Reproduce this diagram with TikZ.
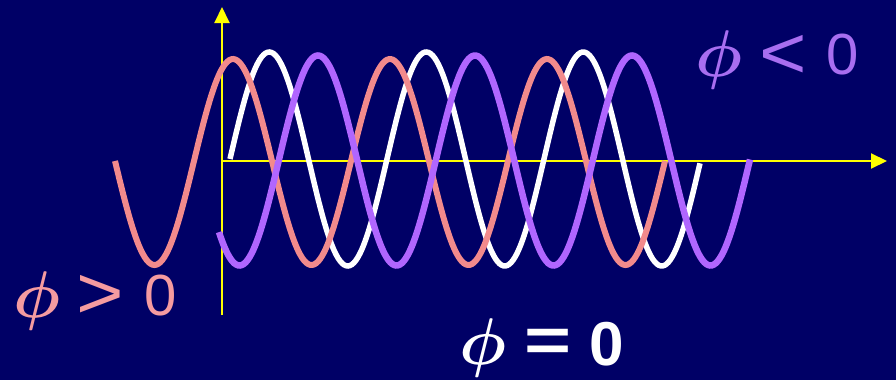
\documentclass[tikz,border=0pt]{standalone}
\usepackage{fix-cm}
\usepackage{fontspec}
\setmainfont{Liberation Sans}
\usetikzlibrary{arrows.meta}
\definecolor{bg}{RGB}{0,0,102}
\definecolor{axisyellow}{RGB}{255,255,0}
\definecolor{wavepink}{RGB}{242,138,140}
\definecolor{wavepurple}{RGB}{176,102,255}
\definecolor{textpink}{RGB}{245,155,160}
\definecolor{textpurple}{RGB}{168,110,240}
\tikzset{
  axis/.style={draw=axisyellow, line width=2pt, -{Triangle[length=16pt,width=15pt]}},
  wave/.style={line width=#1, line cap=butt, smooth},
  glyph/.style={inner sep=0pt, outer sep=0pt, anchor=center},
  phisym/.style={glyph, font=\fontsize{66}{70}\selectfont\boldmath},
  relsym/.style={glyph, font=\fontsize{74}{78}\selectfont},
  zerosym/.style={glyph, font=\fontsize{58}{62}\selectfont},
}
\begin{document}
\begin{tikzpicture}[x=1pt,y=-1pt]
\fill[bg] (0,0) rectangle (896,380);
\useasboundingbox (0,0) rectangle (896,380);
% axes
\coordinate (ybot) at (222,315);
\coordinate (ytip) at (222,7);
\coordinate (orig) at (222,161);
\coordinate (xtip) at (887,161);
\draw[axis] (ybot) -- (ytip);
\draw[axis] (orig) -- (xtip);
% waves
\draw[white, wave=5.5pt] plot[domain=230:700, samples=240] (\x, {159 - 107*sin(((\x-230)/157)*360)});
\draw[wavepink, wave=6pt] plot[domain=115:665, samples=280] (\x, {162 - 103*cos(((\x-233)/157)*360)});
\draw[wavepurple, wave=6.5pt] plot[domain=219:750, samples=280] (\x, {160.5 + 105*cos(((\x-239.5)/157)*360)});
% labels
\node[phisym, textpurple] (phiA) at (719,60) {$\phi$};
\node[relsym, textpurple] (ltA) at (783,57) {\scalebox{1.1}[1]{<}};
\node[zerosym, textpurple] (zeroA) at (843,55) {0};
\node[phisym, textpink] (phiB) at (37,301) {$\phi$};
\node[relsym, textpink] (gtB) at (100,297) {\scalebox{1.1}[1]{>}};
\node[zerosym, textpink] (zeroB) at (161,296) {0};
\node[phisym, white] (phiC) at (483,348) {$\phi$};
\node[glyph, white, font=\fontsize{62}{66}\selectfont\bfseries] (eqC) at (548,345) {\scalebox{1.3}[1]{=}};
\node[zerosym, white, font=\fontsize{62}{66}\selectfont\bfseries] (zeroC) at (607,344) {0};
\end{tikzpicture}
\end{document}
